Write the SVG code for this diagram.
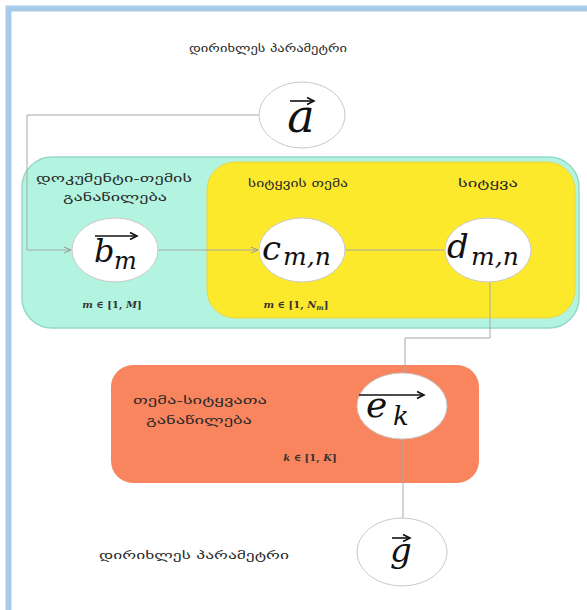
<svg xmlns="http://www.w3.org/2000/svg" width="587" height="610" viewBox="0 0 587 610">
<defs>
<style>
.geo{font-family:"DejaVu Sans","Noto Sans",sans-serif;font-size:10px;fill:#2a2a2a;text-anchor:middle}
.math{font-family:"DejaVu Serif","Liberation Serif",serif;font-style:italic;fill:#111}
.rng{font-family:"DejaVu Serif","Liberation Serif",serif;font-size:10px;fill:#333;text-anchor:middle;font-weight:bold}
.node{fill:#ffffff;stroke:#c9c9c9;stroke-width:1}
.conn{fill:none;stroke:#a8a8a8;stroke-width:1}
.vec{stroke:#111;stroke-width:1.6;fill:none}
</style>
<marker id="ah" markerWidth="8" markerHeight="8" refX="7" refY="4" orient="auto" markerUnits="userSpaceOnUse">
<path d="M0,1 L7,4 L0,7" fill="none" stroke="#999" stroke-width="1"/>
</marker>
<marker id="vh" markerWidth="10" markerHeight="10" refX="8" refY="5" orient="auto" markerUnits="userSpaceOnUse">
<path d="M1,1.5 L8,5 L1,8.5" fill="none" stroke="#111" stroke-width="1.6"/>
</marker>
</defs>
<rect x="0" y="0" width="587" height="610" fill="#ffffff"/>
<rect x="8.5" y="8.5" width="640" height="660" fill="none" stroke="#a9cbea" stroke-width="6"/>

<g id="plate-document">
<rect x="22" y="157" width="557" height="171" rx="30" fill="#b3f4e0" stroke="#96d8cc" stroke-width="1.5"/>
<text class="geo" x="114" y="182" textLength="156" lengthAdjust="spacingAndGlyphs" fill="#1f3a30">დოკუმენტი-თემის</text>
<text class="geo" x="115" y="201" textLength="104" lengthAdjust="spacingAndGlyphs" fill="#1f3a30">განაწილება</text>
<text class="rng" x="112" y="308"><tspan font-style="italic">m</tspan> ∈ [1, <tspan font-style="italic">M</tspan>]</text>
</g>

<g id="plate-word">
<rect x="207" y="162" width="368" height="156" rx="28" fill="#fde92c" stroke="#e6d646" stroke-width="1"/>
<text class="geo" x="298" y="187" textLength="100" lengthAdjust="spacingAndGlyphs">სიტყვის თემა</text>
<text class="geo" x="488" y="187" textLength="60" lengthAdjust="spacingAndGlyphs">სიტყვა</text>
<text class="rng" x="296" y="308"><tspan font-style="italic">m</tspan> ∈ [1, <tspan font-style="italic">N</tspan><tspan font-style="italic" font-size="7" dy="2">m</tspan><tspan dy="-2">]</tspan></text>
</g>

<g id="plate-topic">
<rect x="111" y="365" width="368" height="118" rx="22" fill="#f8855e"/>
<text class="geo" x="200" y="404" textLength="134" lengthAdjust="spacingAndGlyphs">თემა-სიტყვათა</text>
<text class="geo" x="199" y="424" textLength="106" lengthAdjust="spacingAndGlyphs">განაწილება</text>
<text class="rng" x="310" y="461"><tspan font-style="italic">k</tspan> ∈ [1, <tspan font-style="italic">K</tspan>]</text>
</g>

<g id="connectors">
<path class="conn" d="M259,115 H27 V250 H71" marker-end="url(#ah)"/>
<path class="conn" d="M158,250 H258" marker-end="url(#ah)"/>
<path class="conn" d="M345,250 H445"/>
<path class="conn" d="M490,282 V338 H405 V373"/>
<path class="conn" d="M403,439 V518"/>
</g>

<g id="label-top">
<text class="geo" x="268" y="52" textLength="158" lengthAdjust="spacingAndGlyphs">დირიხლეს პარამეტრი</text>
</g>

<g id="label-bottom">
<text class="geo" x="194" y="559" textLength="190" lengthAdjust="spacingAndGlyphs">დირიხლეს პარამეტრი</text>
</g>

<g id="node-a">
<ellipse class="node" cx="302" cy="115" rx="43" ry="33"/>
<text class="math" x="301" y="132" font-size="46" text-anchor="middle">a</text>
<line class="vec" x1="290" y1="101" x2="314" y2="101" marker-end="url(#vh)"/>
</g>

<g id="node-b">
<ellipse class="node" cx="115" cy="250" rx="43" ry="32"/>
<text class="math" x="94" y="262" font-size="32">b</text>
<text class="math" x="114" y="269" font-size="24">m</text>
<line class="vec" x1="95" y1="236" x2="137" y2="236" marker-end="url(#vh)"/>
</g>

<g id="node-c">
<ellipse class="node" cx="302" cy="250" rx="43" ry="32"/>
<text class="math" x="262" y="260" font-size="34">c</text>
<text class="math" x="283" y="265" font-size="25">m,n</text>
</g>

<g id="node-d">
<ellipse class="node" cx="488" cy="250" rx="43" ry="32"/>
<text class="math" x="447" y="258" font-size="34">d</text>
<text class="math" x="471" y="265" font-size="25">m,n</text>
</g>

<g id="node-e">
<ellipse class="node" cx="402" cy="406" rx="45" ry="33"/>
<text class="math" x="366" y="417" font-size="36">e</text>
<text class="math" x="393" y="425" font-size="26">k</text>
<line class="vec" x1="359" y1="395" x2="424" y2="395" marker-end="url(#vh)"/>
</g>

<g id="node-g">
<ellipse class="node" cx="402" cy="552" rx="45" ry="34"/>
<text class="math" x="401" y="562" font-size="34" text-anchor="middle">g</text>
<line class="vec" x1="392" y1="538" x2="410" y2="538" marker-end="url(#vh)"/>
</g>
</svg>
